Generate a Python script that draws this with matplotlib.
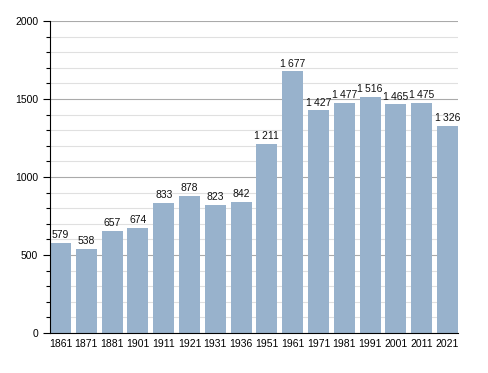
import matplotlib
matplotlib.use("Agg")
import matplotlib.pyplot as plt
from matplotlib.ticker import MultipleLocator

plt.rcParams["font.family"] = ["Liberation Sans", "DejaVu Sans"]

years = ["1861", "1871", "1881", "1901", "1911", "1921", "1931", "1936",
         "1951", "1961", "1971", "1981", "1991", "2001", "2011", "2021"]
population = [579, 538, 657, 674, 833, 878, 823, 842,
              1211, 1677, 1427, 1477, 1516, 1465, 1475, 1326]

fig = plt.figure(figsize=(4.88, 3.73), dpi=100)
ax = fig.add_axes([0.1025, 0.107, 0.836, 0.8367])

w = 0.81
x = list(range(len(years)))
ax.bar(x, population, width=w, color="#98b2cc", zorder=3)

for xi, v in zip(x, population):
    s = f"{v:,}".replace(",", "\u2009")
    ax.text(xi, v + 18, s, ha="center", va="bottom", fontsize=7.5, color="#111111", zorder=4)

ax.set_xlim(-w / 2, len(years) - 1 + w / 2)
ax.set_ylim(0, 2000)
ax.set_xticks(x)
ax.set_xticklabels(years, fontsize=7.5)
ax.tick_params(axis="x", length=0, pad=4)
ax.yaxis.set_major_locator(MultipleLocator(500))
ax.yaxis.set_minor_locator(MultipleLocator(100))
ax.tick_params(axis="y", which="major", length=5, labelsize=7.5, width=0.8)
ax.tick_params(axis="y", which="minor", length=3, width=0.8)

ax.grid(axis="y", which="major", color="#aaaaaa", linewidth=0.8, zorder=0)
ax.grid(axis="y", which="minor", color="#e0e0e0", linewidth=0.8, zorder=0)
ax.set_axisbelow(True)

for s in ["top", "right"]:
    ax.spines[s].set_visible(False)
ax.spines["left"].set_color("black")
ax.spines["bottom"].set_color("black")
ax.spines["left"].set_zorder(5)
ax.spines["bottom"].set_zorder(5)

fig.savefig("out.png", dpi=100)
